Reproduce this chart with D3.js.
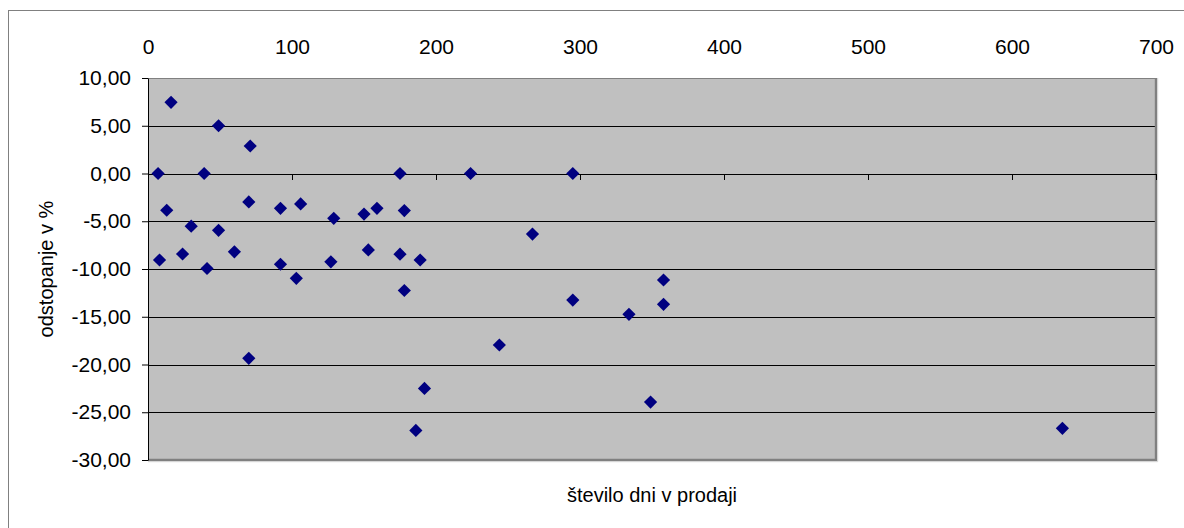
<!DOCTYPE html>
<html>
<head>
<meta charset="utf-8">
<script src="https://cdn.jsdelivr.net/npm/d3@7"></script>
<style>
  html, body { margin: 0; padding: 0; background: #fff; }
  svg { display: block; font-family: "Liberation Sans", Arial, sans-serif; }
</style>
</head>
<body>
<svg id="chart" width="1184" height="528"></svg>
<script>
// Days on sale vs. price deviation (%)
const days = [7, 8, 13, 16, 24, 30, 39, 41, 49, 49, 60, 70, 70, 71, 92, 92, 103, 106, 127, 129,
              150, 153, 159, 175, 175, 178, 178, 189, 186, 192, 224, 244, 267, 295, 295, 334, 349, 358, 358, 635];
const deviation = [0, -9.06, -3.85, 7.45, -8.43, -5.52, 0, -9.95, 5.0, -5.95, -8.2, -2.98, -19.35, 2.88, -3.65, -9.5, -10.98, -3.19, -9.25, -4.69,
                   -4.25, -8.0, -3.65, 0, -8.45, -3.88, -12.25, -9.06, -26.9, -22.5, 0, -17.96, -6.34, 0, -13.25, -14.75, -23.93, -11.15, -13.7, -26.68];
const xTicks = [0, 100, 200, 300, 400, 500, 600, 700];
const yTicks = [10, 5, 0, -5, -10, -15, -20, -25, -30];
const xTitle = "število dni v prodaji";
const yTitle = "odstopanje v %";

const svg = d3.select("#chart");
const plotL = 148, plotR = 1156, plotT = 78, plotB = 460;

const x = d3.scaleLinear().domain([0, 700]).range([plotL, plotR]);
const y = d3.scaleLinear().domain([-30, 10]).range([plotB, plotT]);

const sl = d3.formatLocale({ decimal: ",", thousands: ".", grouping: [3], currency: ["", ""], minus: "-" });
const fmtY = sl.format(".2f");

// Outer chart frame
svg.append("rect")
  .attr("x", 8.5).attr("y", 10.5).attr("width", 1300).attr("height", 700)
  .attr("fill", "#fff").attr("stroke", "#808080").attr("stroke-width", 1);

// Plot area
svg.append("rect")
  .attr("x", plotL).attr("y", plotT).attr("width", plotR - plotL).attr("height", plotB - plotT)
  .attr("fill", "#C0C0C0");

// Horizontal gridlines
svg.append("g").selectAll("line")
  .data(yTicks.filter(v => v > -30 && v < 10))
  .join("line")
  .attr("x1", plotL).attr("x2", plotR)
  .attr("y1", d => Math.round(y(d)) + 0.5).attr("y2", d => Math.round(y(d)) + 0.5)
  .attr("stroke", "#000").attr("stroke-width", 1);

// Plot area frame: top edge, right and bottom shadowed edges
svg.append("line").attr("x1", plotL).attr("x2", plotR).attr("y1", plotT + 0.5).attr("y2", plotT + 0.5)
  .attr("stroke", "#808080");
svg.append("path")
  .attr("d", `M${plotR},${plotT} V${plotB} H${plotL}`)
  .attr("fill", "none").attr("stroke", "#808080").attr("stroke-width", 2.4);
svg.append("path")
  .attr("d", `M${plotR + 1.7},${plotT} V${plotB + 1.7} H${plotL}`)
  .attr("fill", "none").attr("stroke", "#d4d4d4").attr("stroke-width", 1);

// X axis crossing at zero, ticks pointing down
const xAxisG = svg.append("g")
  .attr("transform", `translate(0,${Math.round(y(0))})`)
  .call(d3.axisBottom(x).tickValues(xTicks).tickSize(6).tickSizeOuter(0).tickFormat(""));
xAxisG.select(".domain").attr("stroke", "#000");
xAxisG.selectAll(".tick line").attr("stroke", "#000");

// X tick labels along the top
const xLabG = svg.append("g")
  .attr("transform", "translate(0,54)")
  .call(d3.axisTop(x).tickValues(xTicks).tickSize(0).tickPadding(0).tickFormat(d3.format("d")));
xLabG.select(".domain").remove();
xLabG.selectAll("text").attr("font-size", 21).attr("font-family", "Liberation Sans, Arial, sans-serif")
  .attr("fill", "#000").attr("dy", 0);

// Y axis
const yAxisG = svg.append("g")
  .attr("transform", `translate(${plotL},0)`)
  .call(d3.axisLeft(y).tickValues(yTicks).tickSize(6).tickSizeOuter(0).tickPadding(11).tickFormat(fmtY));
yAxisG.select(".domain").attr("stroke", "#000");
yAxisG.selectAll(".tick line").attr("stroke", "#000");
yAxisG.selectAll("text").attr("font-size", 21).attr("font-family", "Liberation Sans, Arial, sans-serif")
  .attr("fill", "#000");

// Axis titles
svg.append("text")
  .attr("x", 652).attr("y", 502)
  .attr("text-anchor", "middle").attr("font-size", 20).attr("fill", "#000")
  .text(xTitle);
svg.append("text")
  .attr("transform", "translate(53,269) rotate(-90)")
  .attr("text-anchor", "middle").attr("font-size", 20).attr("fill", "#000")
  .text(yTitle);

// Diamond markers
const pts = days.map((d, i) => ({ d, v: deviation[i] }));
const r = 6.6;
svg.append("g").selectAll("path")
  .data(pts)
  .join("path")
  .attr("d", p => {
    const cx = x(p.d), cy = y(p.v);
    return `M${cx},${cy - r} L${cx + r},${cy} L${cx},${cy + r} L${cx - r},${cy} Z`;
  })
  .attr("fill", "#000080");
</script>
</body>
</html>
